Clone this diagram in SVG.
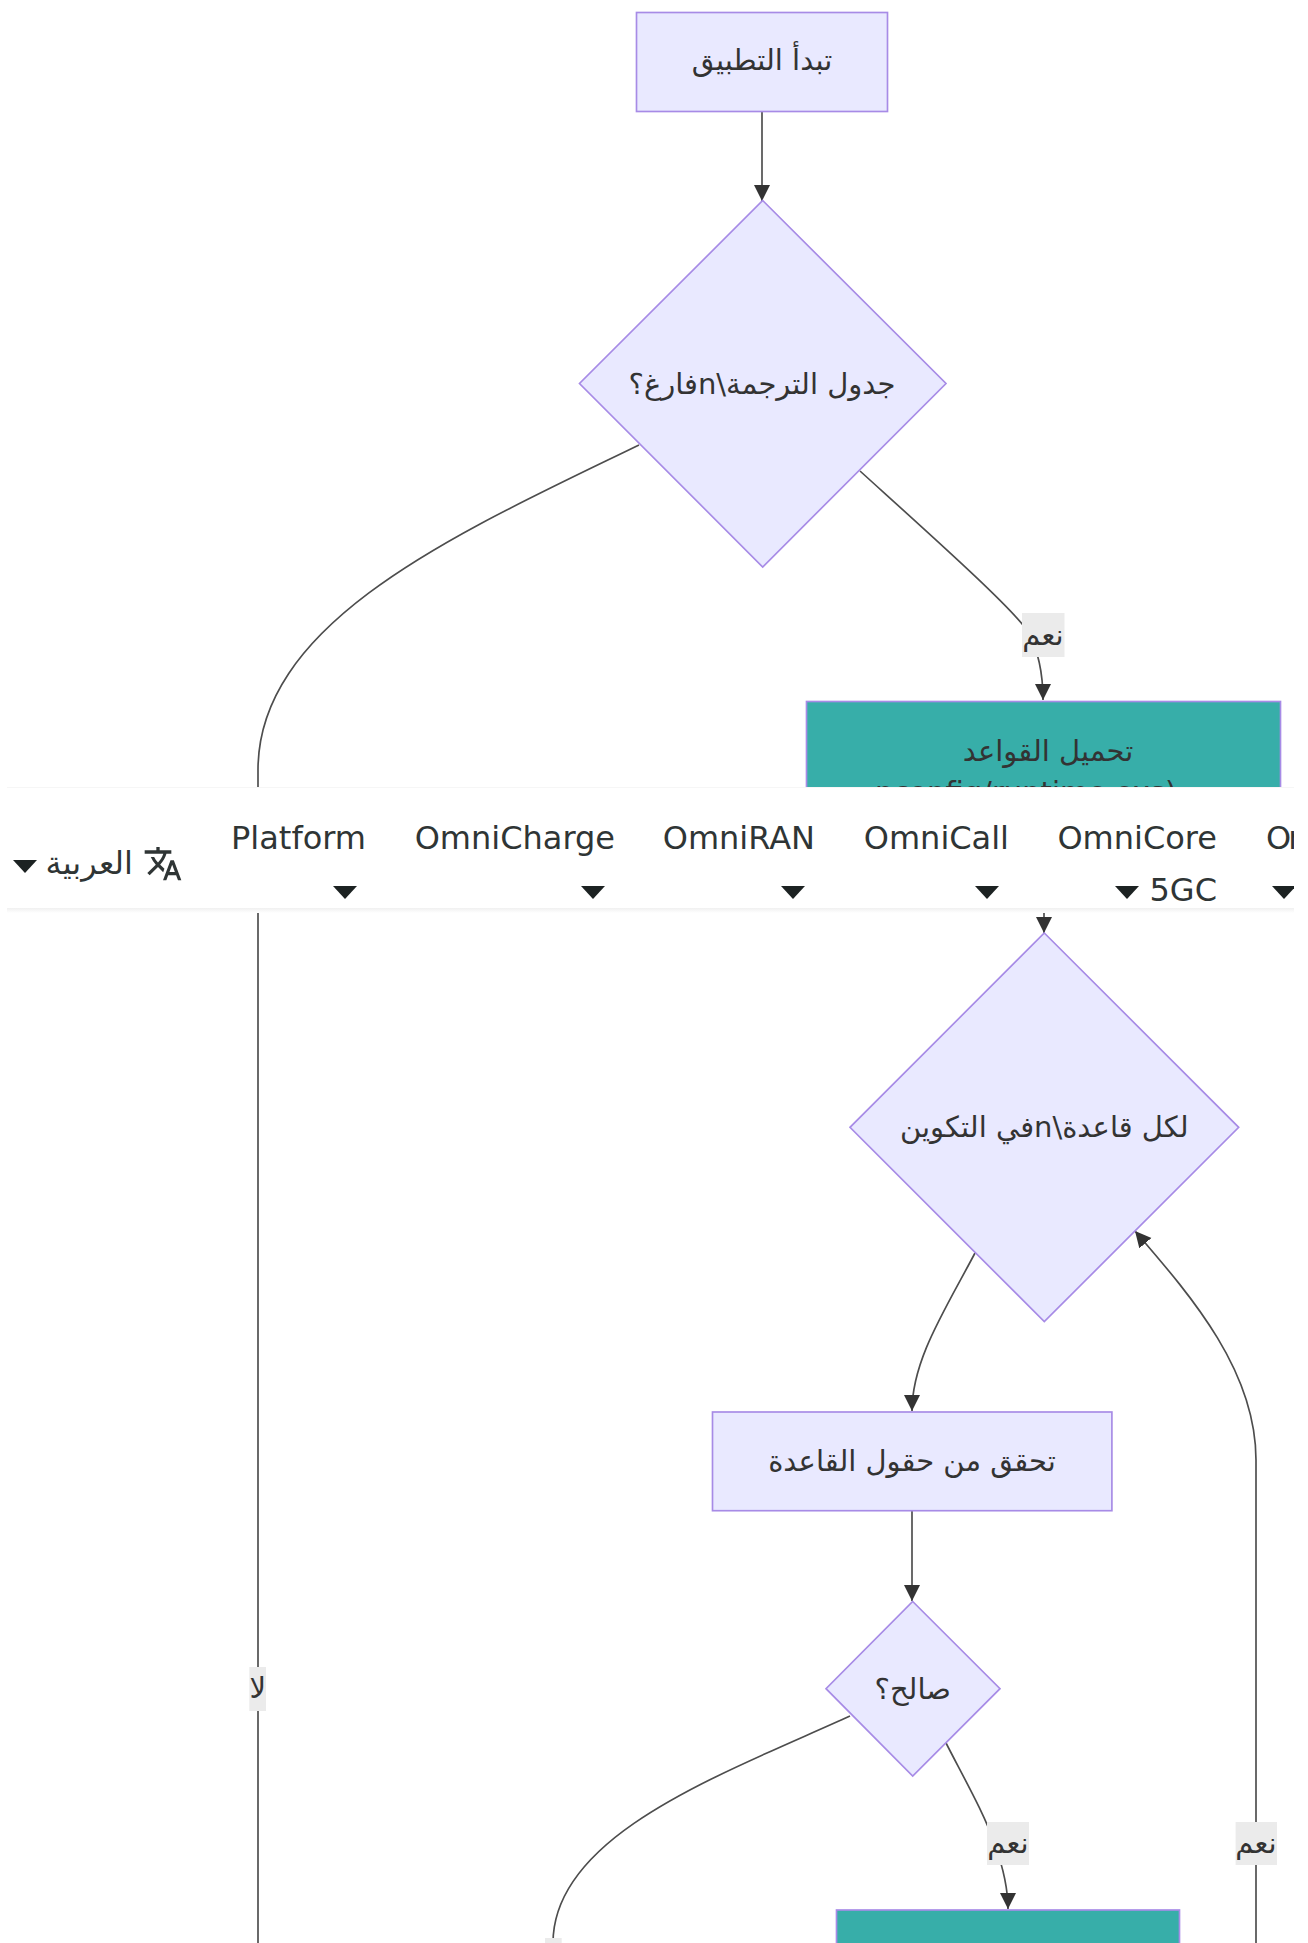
<svg xmlns="http://www.w3.org/2000/svg" width="1308" height="1943" viewBox="0 0 1308 1943">
<style>
text{font-family:"DejaVu Sans",sans-serif;fill:#333;}
.t{font-size:29px;text-anchor:middle;direction:rtl;dominant-baseline:central;}
.n{fill:#e9e9ff;stroke:#a78be6;stroke-width:1.67px;}
.g{fill:#37aea9;stroke:#a78be6;stroke-width:1.67px;}
.e{fill:none;stroke:#4d4d4d;stroke-width:1.67px;}
.l{fill:#ebebeb;}
.nv{font-size:32px;fill:#2f3535;text-anchor:end;dominant-baseline:central;}
.c{fill:#1c2222;}
</style>
<defs>
<marker id="a" markerUnits="userSpaceOnUse" viewBox="0 0 10 10" refX="10" refY="5" markerWidth="16" markerHeight="17" orient="auto"><path d="M0 0L10 5L0 10z" fill="#333"/></marker>
<clipPath id="nc"><rect x="7" y="788" width="1287" height="120"/></clipPath>
<linearGradient id="sh" x1="0" y1="0" x2="0" y2="1"><stop offset="0" stop-color="#f0f0f0"/><stop offset="1" stop-color="#fff"/></linearGradient>
</defs>
<rect width="1308" height="1943" fill="#fff"/>
<g id="connectors">
<path class="e" marker-end="url(#a)" d="M762 111V201"/>
<path class="e" d="M639 445C460 532 258 620 258 770V1943"/>
<path class="e" marker-end="url(#a)" d="M860 471C925 530 1015 610 1028 632C1038 650 1043 675 1043 700"/>
<path class="e" marker-end="url(#a)" d="M1044 860V933"/>
<path class="e" marker-end="url(#a)" d="M975 1253C945 1310 912 1360 912 1411"/>
<path class="e" marker-end="url(#a)" d="M912 1511V1601"/>
<path class="e" d="M850 1716C720 1775 553 1835 553 1943"/>
<path class="e" marker-end="url(#a)" d="M946 1743C965 1780 985 1815 995 1845C1004 1870 1008 1890 1008 1909"/>
<path class="e" marker-end="url(#a)" d="M1256 1943V1460C1256 1370 1190 1295 1135 1231"/>
</g>
<g id="start"><rect class="n" x="636.5" y="12.5" width="251" height="99"/><text class="t" x="762" y="60">تبدأ التطبيق</text></g>
<g id="empty"><polygon class="n" points="762.7,200.5 946,383.5 762.7,567 579.5,383.5"/><text class="t" x="762" y="384">جدول الترجمة\nفارغ؟</text></g>
<g id="load"><rect class="g" x="806.5" y="701.5" width="474" height="160"/><text class="t" x="1048" y="751">تحميل القواعد</text><text x="875" y="792" style="font-size:29px;dominant-baseline:central">nconfig/runtime.exs)</text></g>
<g id="each"><polygon class="n" points="1044.3,933 1238.7,1127.3 1044.3,1321.6 850,1127.3"/><text class="t" x="1044.3" y="1127">لكل قاعدة\nفي التكوين</text></g>
<g id="check"><rect class="n" x="712.5" y="1412" width="399.4" height="98.7"/><text class="t" x="912" y="1461">تحقق من حقول القاعدة</text></g>
<g id="valid"><polygon class="n" points="912.7,1601.5 1000,1688.7 912.7,1776 826,1688.7"/><text class="t" x="912.7" y="1689">صالح؟</text></g>
<g id="next"><rect class="g" x="836.5" y="1910" width="343" height="60"/></g>
<g id="edge-labels">
<g><rect class="l" x="1022" y="613" width="42.5" height="44"/><text class="t" x="1043" y="635">نعم</text></g>
<g><rect class="l" x="249.3" y="1667" width="16.7" height="44"/><text class="t" x="257.7" y="1688">لا</text></g>
<g><rect class="l" x="987" y="1822" width="42" height="43"/><text class="t" x="1008" y="1843">نعم</text></g>
<g><rect class="l" x="1235.6" y="1822" width="41.4" height="43"/><text class="t" x="1256" y="1843">نعم</text></g>
<rect class="l" x="545" y="1938" width="16.7" height="5"/>
</g>
<g id="nav">
<rect x="7" y="908" width="1287" height="5" fill="url(#sh)"/>
<rect x="7" y="787" width="1287" height="1" fill="#f6f6f6"/>
<rect x="7" y="788" width="1287" height="120" fill="#fff"/>
<g clip-path="url(#nc)">
<path transform="translate(143 843.7) scale(1.667)" fill="#2f3535" d="m12.87 15.07-2.54-2.51.03-.03c1.74-1.94 2.98-4.17 3.71-6.53H17V4h-7V2H8v2H1v1.99h11.17C11.5 7.92 10.44 9.75 9 11.35 8.07 10.32 7.3 9.19 6.69 8h-2c.73 1.63 1.73 3.17 2.98 4.56l-5.09 5.02L4 19l5-5 3.11 3.11.76-2.04zM18.5 10h-2L12 22h2l1.12-3h4.75L21 22h2l-4.5-12zm-2.62 7 1.62-4.33L19.12 17h-3.24z"/>
<text class="nv" x="133" y="863">العربية</text>
<polygon class="c" points="13,860 37,860 25,873"/>
<text class="nv" x="366" y="838">Platform</text><polygon class="c" points="333,886 357,886 345,899"/>
<text class="nv" x="615" y="838">OmniCharge</text><polygon class="c" points="581,886 605,886 593,899"/>
<text class="nv" x="815" y="838">OmniRAN</text><polygon class="c" points="781,886 805,886 793,899"/>
<text class="nv" x="1009" y="838">OmniCall</text><polygon class="c" points="975,886 999,886 987,899"/>
<text class="nv" x="1217" y="838">OmniCore</text><text class="nv" x="1217" y="890">5GC</text><polygon class="c" points="1115,886 1139,886 1127,899"/>
<text class="nv" x="1266" y="838" style="text-anchor:start;letter-spacing:-3px">Om</text><polygon class="c" points="1272,886 1296,886 1284,899"/>
</g>
</g>
</svg>
